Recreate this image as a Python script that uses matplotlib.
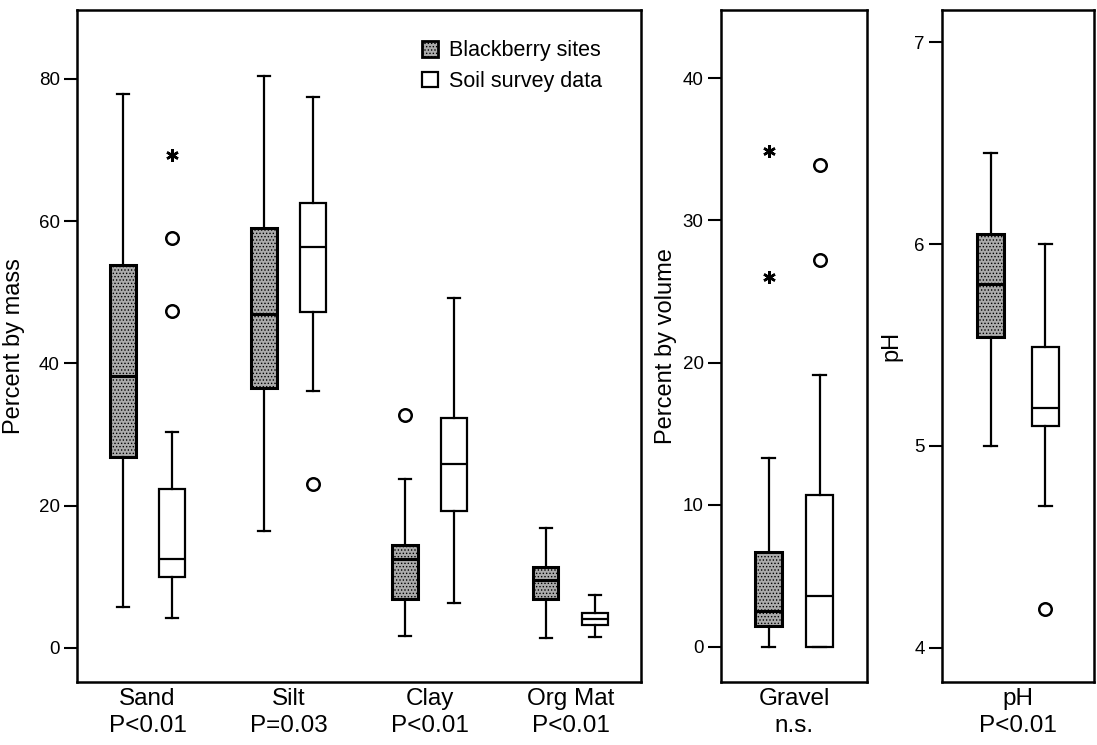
import matplotlib
matplotlib.use("Agg")
import matplotlib.pyplot as plt
from matplotlib.patches import Patch

plt.rcParams['font.family'] = ['Liberation Sans', 'DejaVu Sans']
plt.rcParams['hatch.linewidth'] = 0.6

# Soil texture (percent by mass)
mass_groups = ["Sand", "Silt", "Clay", "Org Mat"]
mass_pvals = ["P<0.01", "P=0.03", "P<0.01", "P<0.01"]

bb_mass_lo = [5.8, 16.5, 1.7, 1.4]
bb_mass_q1 = [26.8, 36.5, 6.8, 6.9]
bb_mass_med = [38.2, 46.9, 12.5, 9.6]
bb_mass_q3 = [53.9, 59.0, 14.4, 11.3]
bb_mass_hi = [77.9, 80.4, 23.7, 16.8]
bb_mass_out = [[], [], [32.7], []]
bb_mass_ext = [[], [], [], []]

soil_mass_lo = [4.2, 36.1, 6.3, 1.5]
soil_mass_q1 = [10.0, 47.2, 19.3, 3.2]
soil_mass_med = [12.5, 56.3, 25.9, 4.1]
soil_mass_q3 = [22.4, 62.5, 32.3, 4.9]
soil_mass_hi = [30.4, 77.5, 49.2, 7.4]
soil_mass_out = [[57.7, 47.3], [23.1], [], []]
soil_mass_ext = [[69.3], [], [], []]

# Gravel (percent by volume)
gravel_groups = ["Gravel"]
gravel_pvals = ["n.s."]
bb_gravel = [0.0, 1.5, 2.5, 6.7, 13.3]
bb_gravel_out = []
bb_gravel_ext = [34.9, 26.0]
soil_gravel = [0.0, 0.0, 3.6, 10.7, 19.1]
soil_gravel_out = [33.9, 27.2]
soil_gravel_ext = []

# pH
ph_groups = ["pH"]
ph_pvals = ["P<0.01"]
bb_ph = [5.0, 5.54, 5.80, 6.05, 6.45]
bb_ph_out = []
bb_ph_ext = []
soil_ph = [4.70, 5.10, 5.19, 5.49, 6.0]
soil_ph_out = [4.19]
soil_ph_ext = []

GRAY = '#ababab'
OFF = 0.175
W = 0.18
CAP = 0.085


def stats(lo, q1, med, q3, hi, out):
    return dict(whislo=lo, q1=q1, med=med, q3=q3, whishi=hi, fliers=out)


def draw(ax, pos, st, ext, filled):
    lw_box = 2.2 if filled else 1.6
    ax.bxp(st, positions=pos, widths=W, capwidths=CAP, patch_artist=True,
           boxprops=dict(facecolor=GRAY if filled else 'white', edgecolor='black',
                         linewidth=lw_box, hatch='.....' if filled else None),
           whiskerprops=dict(color='black', linewidth=1.6),
           capprops=dict(color='black', linewidth=1.6),
           medianprops=dict(color='black', linewidth=lw_box),
           flierprops=dict(marker='o', markerfacecolor='white', markeredgecolor='black',
                           markersize=9, markeredgewidth=1.8, linestyle='none'))
    for p, e in zip(pos, ext):
        if e:
            ax.plot([p] * len(e), e, linestyle='none', marker=(6, 2, 0), markersize=9,
                    markeredgewidth=1.8, color='black')


def style(ax, groups, pvals, ylim, yticks, ylabel, labx):
    ax.set_xlim(0.5, len(groups) + 0.5)
    ax.set_ylim(*ylim)
    ax.set_yticks(yticks)
    ax.set_xticks(range(1, len(groups) + 1))
    ax.set_xticklabels([g + "\n" + p for g, p in zip(groups, pvals)], fontsize=17.5,
                       linespacing=1.3)
    ax.tick_params(axis='x', length=0, pad=4)
    ax.tick_params(axis='y', length=9.5, width=1.5, pad=3, labelsize=13.5)
    for s in ax.spines.values():
        s.set_linewidth(1.8)
    ax.set_ylabel(ylabel, fontsize=17)
    ax.yaxis.set_label_coords(labx, 0.5)


fig = plt.figure(figsize=(10.97, 7.45), dpi=100)
bottom, height = 0.0846, 0.902
ax1 = fig.add_axes([0.0702, bottom, 0.5141, height])
ax2 = fig.add_axes([0.6573, bottom, 0.1331, height])
ax3 = fig.add_axes([0.8587, bottom, 0.1386, height])

# mass panel
n = len(mass_groups)
bb_st = [stats(bb_mass_lo[i], bb_mass_q1[i], bb_mass_med[i], bb_mass_q3[i], bb_mass_hi[i],
               bb_mass_out[i]) for i in range(n)]
soil_st = [stats(soil_mass_lo[i], soil_mass_q1[i], soil_mass_med[i], soil_mass_q3[i],
                 soil_mass_hi[i], soil_mass_out[i]) for i in range(n)]
draw(ax1, [i + 1 - OFF for i in range(n)], bb_st, bb_mass_ext, True)
draw(ax1, [i + 1 + OFF for i in range(n)], soil_st, soil_mass_ext, False)
style(ax1, mass_groups, mass_pvals, (-4.8, 89.7), [0, 20, 40, 60, 80], "Percent by mass", -0.092)

handles = [Patch(facecolor=GRAY, edgecolor='black', hatch='.....', linewidth=2),
           Patch(facecolor='white', edgecolor='black', linewidth=1.6)]
ax1.legend(handles, ["Blackberry sites", "Soil survey data"], loc='upper left',
           bbox_to_anchor=(0.611, 0.955), frameon=False, fontsize=15.5,
           handlelength=0.75, handleheight=0.75, handletextpad=0.5,
           labelspacing=0.45, borderpad=0, borderaxespad=0)

# gravel panel
draw(ax2, [1 - OFF], [stats(*bb_gravel, bb_gravel_out)], [bb_gravel_ext], True)
draw(ax2, [1 + OFF], [stats(*soil_gravel, soil_gravel_out)], [soil_gravel_ext], False)
style(ax2, gravel_groups, gravel_pvals, (-2.46, 44.8), [0, 10, 20, 30, 40],
      "Percent by volume", -0.30)

# pH panel
draw(ax3, [1 - 0.18], [stats(*bb_ph, bb_ph_out)], [bb_ph_ext], True)
draw(ax3, [1 + 0.18], [stats(*soil_ph, soil_ph_out)], [soil_ph_ext], False)
style(ax3, ph_groups, ph_pvals, (3.83, 7.16), [4, 5, 6, 7], "pH", -0.257)

fig.savefig("out.png", dpi=100)
